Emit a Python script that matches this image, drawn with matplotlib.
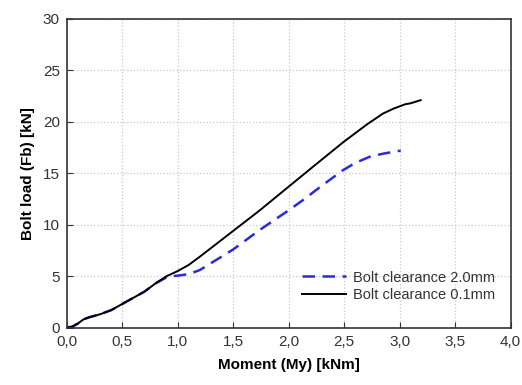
import numpy as np
import matplotlib.pyplot as plt
from matplotlib.ticker import FuncFormatter

plt.rcParams['font.family'] = ['Liberation Sans', 'DejaVu Sans']

# Bolt clearance 0.1mm (solid black)
m_01 = [0.0, 0.05, 0.1, 0.15, 0.2, 0.3, 0.4, 0.5, 0.6, 0.7, 0.8, 0.9, 1.0, 1.1, 1.2,
        1.5, 1.74, 2.0, 2.25, 2.49, 2.7, 2.85, 2.95, 3.0, 3.05, 3.1, 3.19]
f_01 = [0.0, 0.1, 0.4, 0.8, 1.0, 1.3, 1.7, 2.3, 2.9, 3.5, 4.3, 5.0, 5.5, 6.1, 6.9,
        9.4, 11.4, 13.7, 15.9, 18.0, 19.7, 20.8, 21.3, 21.5, 21.7, 21.8, 22.1]

# Bolt clearance 2.0mm (dashed blue)
m_20 = [0.0, 0.05, 0.1, 0.15, 0.2, 0.3, 0.4, 0.5, 0.6, 0.7, 0.8, 0.9, 0.95, 1.0, 1.1,
        1.2, 1.5, 1.74, 2.0, 2.13, 2.3, 2.49, 2.6, 2.73, 2.85, 3.01]
f_20 = [0.0, 0.1, 0.4, 0.8, 1.0, 1.3, 1.7, 2.3, 2.9, 3.5, 4.3, 4.9, 5.0, 5.05, 5.2,
        5.6, 7.6, 9.5, 11.4, 12.4, 13.8, 15.3, 16.0, 16.6, 16.9, 17.2]

x_ticks = np.arange(0, 4.01, 0.5)
y_ticks = np.arange(0, 31, 5)

fig, ax = plt.subplots(figsize=(5.22, 3.85), dpi=100)
fig.subplots_adjust(left=0.128, right=0.978, top=0.951, bottom=0.149)

ax.plot(m_20, f_20, color='#2a2ae0', ls=(0, (5, 3)), lw=1.8, label='Bolt clearance 2.0mm')
ax.plot(m_01, f_01, color='black', lw=1.4, label='Bolt clearance 0.1mm')

ax.set_xlim(0, 4)
ax.set_ylim(0, 30)
ax.set_xticks(x_ticks)
ax.set_yticks(y_ticks)
ax.xaxis.set_major_formatter(FuncFormatter(lambda v, p: f'{v:.1f}'.replace('.', ',')))
ax.tick_params(direction='in', length=4, labelsize=11, colors='#333333', pad=5)
ax.grid(True, color='#c8c8c8', ls=':', lw=0.9)
for s in ax.spines.values():
    s.set_color('#333333')
    s.set_linewidth(1.2)

ax.set_xlabel('Moment (My) [kNm]', fontsize=11, fontweight='bold', labelpad=7)
ax.set_ylabel('Bolt load (Fb) [kN]', fontsize=11, fontweight='bold', labelpad=6)

ax.legend(loc='lower right', bbox_to_anchor=(0.995, 0.04), frameon=False, fontsize=10.5,
          handlelength=3.0, handletextpad=0.5, labelspacing=0.25, labelcolor='#333333')

fig.savefig('out.png', dpi=100)
